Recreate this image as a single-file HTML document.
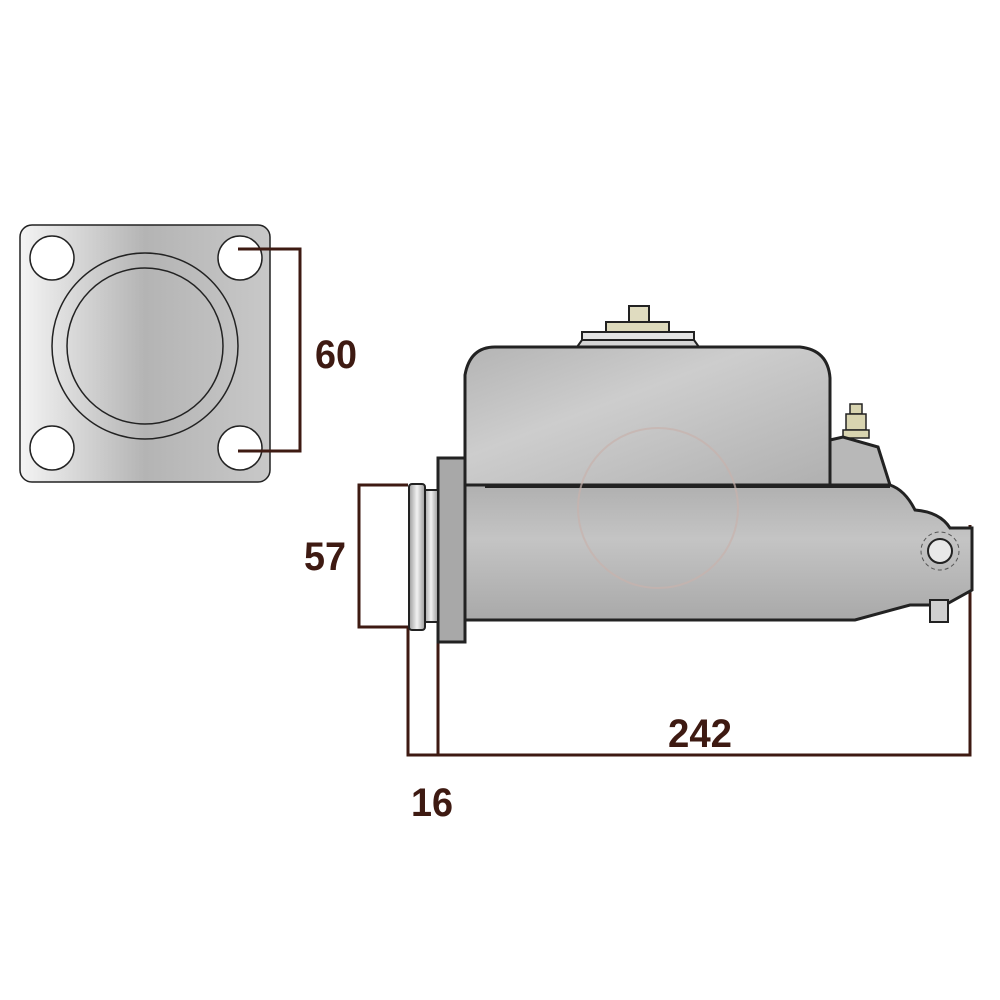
<!DOCTYPE html>
<html><head><style>
html,body{margin:0;padding:0;background:#fff;}
svg{display:block}
text{font-family:"Liberation Sans",sans-serif;font-weight:bold;fill:#3e1a12;font-size:40px}
</style></head><body>
<svg width="1000" height="1000" viewBox="0 0 1000 1000">
<defs>
<linearGradient id="pl" x1="0" x2="1">
<stop offset="0" stop-color="#f4f4f4"/><stop offset="0.5" stop-color="#b4b4b4"/><stop offset="1" stop-color="#c8c8c8"/>
</linearGradient>
<linearGradient id="bd" x1="0" y1="0" x2="0" y2="1">
<stop offset="0" stop-color="#b0b0b0"/><stop offset="0.4" stop-color="#c4c4c4"/><stop offset="1" stop-color="#a9a9a9"/>
</linearGradient>
<linearGradient id="rs" x1="0" y1="0" x2="1" y2="1">
<stop offset="0" stop-color="#b4b4b4"/><stop offset="0.4" stop-color="#cdcdcd"/><stop offset="1" stop-color="#b0b0b0"/>
</linearGradient>
<linearGradient id="ring" x1="0" x2="1">
<stop offset="0" stop-color="#9a9a9a"/><stop offset="0.5" stop-color="#f2f2f2"/><stop offset="1" stop-color="#9a9a9a"/>
</linearGradient>
</defs>
<rect x="20" y="225" width="250" height="257" rx="12" fill="url(#pl)" stroke="#222" stroke-width="1.5"/>
<g fill="#fff" stroke="#222" stroke-width="1.5">
<circle cx="52" cy="258" r="22"/><circle cx="240" cy="258" r="22"/>
<circle cx="52" cy="448" r="22"/><circle cx="240" cy="448" r="22"/>
</g>
<circle cx="145" cy="346" r="93" fill="none" stroke="#222" stroke-width="1.5"/>
<circle cx="145" cy="346" r="78" fill="none" stroke="#222" stroke-width="1.5"/>
<g fill="none" stroke="#3e1a12" stroke-width="3">
<polyline points="238,249 300,249 300,451 238,451"/>
<polyline points="408,485 359,485 359,627 408,627"/>
<polyline points="408,627 408,755 970,755 970,525"/>
<line x1="438" y1="630" x2="438" y2="755"/>
</g>
<rect x="629" y="306" width="20" height="17" fill="#e0dcc0" stroke="#222" stroke-width="2"/>
<rect x="606" y="322" width="63" height="11" fill="#ddd9bb" stroke="#222" stroke-width="2"/>
<rect x="582" y="332" width="112" height="8" fill="#e3e3e3" stroke="#222" stroke-width="2"/>
<path d="M577 347 L582 340 L694 340 L699 347 Z" fill="#d5d5d5" stroke="#222" stroke-width="2"/>
<path d="M465 485 L465 375 Q470 347 495 347 L800 347 Q828 350 830 378 L830 485 Z" fill="url(#rs)" stroke="#222" stroke-width="3"/>
<rect x="850" y="404" width="12" height="10" fill="#d8d4b0" stroke="#222" stroke-width="1.5"/>
<rect x="846" y="414" width="20" height="16" fill="#d8d4b0" stroke="#222" stroke-width="1.5"/>
<rect x="843" y="430" width="26" height="8" fill="#d8d4b0" stroke="#222" stroke-width="1.5"/>
<path d="M830 440 L843 437 L878 447 L890 485 L830 485 Z" fill="#b8b8b8" stroke="#222" stroke-width="3"/>
<path d="M465 485 L890 485 Q905 490 915 510 Q940 512 950 528 L972 528 L972 590 L945 605 L910 605 L855 620 L465 620 Z" fill="url(#bd)" stroke="#222" stroke-width="3"/>
<line x1="485" y1="487" x2="890" y2="487" stroke="#222" stroke-width="2"/>
<rect x="930" y="600" width="18" height="22" fill="#d0d0d0" stroke="#222" stroke-width="2"/>
<circle cx="940" cy="551" r="12" fill="#e8e8e8" stroke="#222" stroke-width="2"/>
<circle cx="940" cy="551" r="19" fill="none" stroke="#555" stroke-width="1" stroke-dasharray="4 3"/>
<circle cx="658" cy="508" r="80" fill="none" stroke="#c8b2ad" stroke-width="2" opacity="0.7"/>
<rect x="438" y="458" width="27" height="184" fill="#a8a8a8" stroke="#222" stroke-width="3"/>
<rect x="424" y="490" width="14" height="132" fill="url(#ring)" stroke="#222" stroke-width="2"/>
<rect x="409" y="484" width="16" height="146" rx="3" fill="url(#ring)" stroke="#222" stroke-width="2"/>
<text x="336" y="368" text-anchor="middle" textLength="42" lengthAdjust="spacingAndGlyphs">60</text>
<text x="325" y="570" text-anchor="middle" textLength="42" lengthAdjust="spacingAndGlyphs">57</text>
<text x="700" y="747" text-anchor="middle" textLength="64" lengthAdjust="spacingAndGlyphs">242</text>
<text x="432" y="816" text-anchor="middle" textLength="42" lengthAdjust="spacingAndGlyphs">16</text>
</svg>
</body></html>
